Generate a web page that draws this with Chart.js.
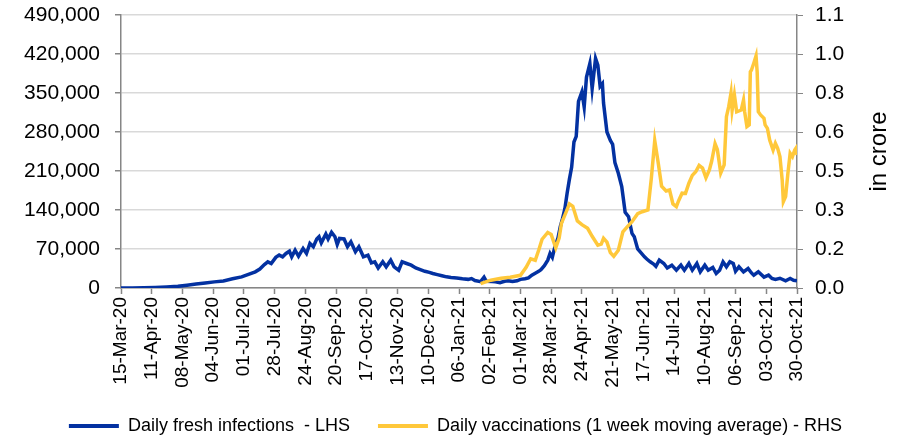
<!DOCTYPE html>
<html><head><meta charset="utf-8">
<script src="https://cdn.jsdelivr.net/npm/chart.js@4/dist/chart.umd.min.js"></script>
<style>html,body{margin:0;padding:0;background:#fff}#wrap{width:897px;height:438px;position:relative}</style>
</head><body><div id="wrap"><canvas id="c" width="897" height="438"></canvas></div>
<script>
// x values are day offsets counted from 15-Mar-20
const tickLabels = ['15-Mar-20','11-Apr-20','08-May-20','04-Jun-20','01-Jul-20','28-Jul-20','24-Aug-20','20-Sep-20','17-Oct-20','13-Nov-20','10-Dec-20','06-Jan-21','02-Feb-21','01-Mar-21','28-Mar-21','24-Apr-21','21-May-21','17-Jun-21','14-Jul-21','10-Aug-21','06-Sep-21','03-Oct-21','30-Oct-21'];
const leftTicks = [0,70000,140000,210000,280000,350000,420000,490000];
const rightTicks = [0,0.16,0.32,0.48,0.64,0.80,0.96,1.12];

const seriesNames = ['Daily fresh infections  - LHS','Daily vaccinations (1 week moving average) - RHS'];

const infectionDay = [0,10,20,30,40,50,58,66,74,82,90,98,106,112,118,122,126,129,132,136,139,142,145,148,150,153,156,160,163,166,169,172,174,176,180,182,185,188,190,192,196,199,202,206,209,213,217,220,223,226,230,233,237,240,244,247,251,255,259,263,267,271,274,278,282,286,290,295,300,305,308,311,316,319,321,326,329,333,337,340,344,348,351,355,358,361,364,367,369,372,375,377,379,381,384,386,388,390,392,394,396,398,400,402,405,407,409,412,414,417,419,421,423,424,427,430,432,434,437,440,443,446,449,451,454,457,460,462,465,468,470,473,477,480,484,488,492,495,499,502,506,509,513,516,520,523,526,529,532,535,538,540,543,547,551,554,556,560,565,569,572,575,579,584,588,591,594];
const infectionValue = [100,200,500,1000,1800,3000,5000,7000,9000,11000,12500,16500,20000,24500,29000,34000,42000,47000,44000,55000,59000,56000,62000,66000,56000,68000,57000,71000,62000,80000,74000,88000,92000,81000,97000,88000,100000,92000,78000,89000,88000,74000,83000,65000,74000,56000,59000,45000,47000,36000,47000,38000,50000,38000,32000,47000,44000,41000,36000,33000,30000,28000,26000,24000,22000,20000,19000,18000,16500,15500,17000,13500,11500,19500,12000,11500,11000,9500,12000,13000,11500,13000,15500,16500,18000,23000,26500,30000,33000,40000,50000,62000,55000,72000,90000,110000,125000,142000,170000,195000,217000,262000,272000,335000,352000,325000,378000,403000,358000,412000,400000,362000,367000,332000,280000,265000,258000,225000,206000,182000,136000,128000,98000,92000,70000,63000,56000,52000,47000,43000,39000,50000,44000,36000,41000,32000,41000,32000,44000,32000,44000,29000,41000,32000,37000,26000,32000,47000,38000,47000,44000,30000,38000,29000,35000,27000,23000,29000,19500,23000,17000,15500,17500,13000,17000,14000,13000];

const vaccinationDay = [316,325,334,342,351,356,360,364,367,370,375,378,382,385,387,391,394,397,401,405,410,414,419,422,424,427,430,433,437,441,445,449,454,458,463,466,469,472,475,479,482,485,488,490,493,496,499,502,505,508,511,514,517,519,522,524,527,530,532,534,536,537,539,541,545,547,548,550,552,553,554,556,558,559,560,562,565,566,568,570,573,575,577,579,581,582,584,586,588,590,592,593,594];
const vaccinationValue = [0.018,0.032,0.040,0.044,0.052,0.085,0.120,0.114,0.155,0.200,0.228,0.220,0.165,0.205,0.265,0.310,0.345,0.335,0.275,0.260,0.245,0.212,0.176,0.180,0.204,0.188,0.145,0.130,0.155,0.230,0.252,0.272,0.305,0.313,0.320,0.450,0.605,0.515,0.418,0.398,0.402,0.345,0.334,0.358,0.389,0.388,0.430,0.462,0.477,0.503,0.492,0.452,0.484,0.520,0.592,0.568,0.472,0.505,0.703,0.744,0.800,0.730,0.792,0.723,0.730,0.771,0.723,0.662,0.669,0.887,0.894,0.922,0.952,0.887,0.723,0.710,0.696,0.669,0.655,0.607,0.566,0.594,0.573,0.539,0.443,0.354,0.375,0.470,0.553,0.539,0.566,0.573,0.546];

const BLUE = '#0331A1';
const YELLOW = '#FFC83A';
const AXIS = '#868686';
const GRID = '#D9D9D9';
const FONT = '"Liberation Sans", Arial, sans-serif';

const toPts = (xs, ys) => xs.map((x, i) => ({x: x, y: ys[i]}));

const titlePlugin = {
  id: 'rightTitle',
  afterDraw(chart) {
    const ctx = chart.ctx;
    const a = chart.chartArea;
    ctx.save();
    ctx.translate(879, (a.top + a.bottom) / 2);
    ctx.rotate(-Math.PI / 2);
    ctx.textAlign = 'center';
    ctx.textBaseline = 'middle';
    ctx.fillStyle = '#000';
    ctx.font = '24px ' + FONT;
    ctx.fillText('in crore', 0, 0);
    ctx.restore();
  }
};

new Chart(document.getElementById('c'), {
  type: 'line',
  data: {
    datasets: [
      {label: seriesNames[0], data: toPts(infectionDay, infectionValue), yAxisID: 'y', borderColor: BLUE, backgroundColor: BLUE, borderWidth: 3.5, pointRadius: 0, tension: 0, order: 1},
      {label: seriesNames[1], data: toPts(vaccinationDay, vaccinationValue), yAxisID: 'y1', borderColor: YELLOW, backgroundColor: YELLOW, borderWidth: 3.5, pointRadius: 0, tension: 0, order: 0}
    ]
  },
  options: {
    responsive: false,
    animation: false,
    devicePixelRatio: 1,
    layout: {padding: {top: 15, left: 14, right: 0, bottom: -7}},
    plugins: {
      tooltip: {enabled: false},
      legend: {
        position: 'bottom',
        labels: {
          boxWidth: 50, boxHeight: 4, padding: 28, color: '#000',
          font: {family: FONT, size: 18},
          generateLabels(chart) {
            return chart.data.datasets.map((d, i) => ({text: d.label, fillStyle: d.borderColor, strokeStyle: d.borderColor, lineWidth: 0, hidden: false, datasetIndex: i, fontColor: '#000'}));
          }
        }
      }
    },
    scales: {
      x: {
        type: 'linear', min: 0, max: 594,
        afterFit(s) { s.height = 101; },
        border: {display: true, color: AXIS, width: 1.5},
        grid: {drawOnChartArea: false, drawTicks: true, tickLength: 6, tickColor: AXIS, tickWidth: 1.5},
        ticks: {stepSize: 27, maxTicksLimit: 40, autoSkip: false, minRotation: 90, maxRotation: 90, padding: 3, color: '#000', font: {family: FONT, size: 19},
          callback: (v) => tickLabels[Math.round(v / 27)]}
      },
      y: {
        position: 'left', min: 0, max: 490000,
        afterFit(s) { s.width = 107; s.paddingTop = 0; s.paddingBottom = 0; },
        border: {display: true, color: AXIS, width: 1.5},
        grid: {color: GRID, lineWidth: 1.5, drawTicks: true, tickLength: 6, tickColor: AXIS},
        ticks: {stepSize: 70000, padding: 15, color: '#000', font: {family: FONT, size: 21},
          callback: (v) => leftTicks.includes(v) ? v.toLocaleString('en-US') : ''}
      },
      y1: {
        position: 'right', min: 0, max: 1.12,
        afterFit(s) { s.width = 100; s.paddingTop = 0; s.paddingBottom = 0; },
        border: {display: true, color: AXIS, width: 1.5},
        grid: {drawOnChartArea: false, drawTicks: true, tickLength: 6, tickColor: AXIS},
        ticks: {stepSize: 0.16, padding: 12, color: '#000', font: {family: FONT, size: 21},
          callback: (v) => v.toFixed(1)}
      }
    }
  },
  plugins: [titlePlugin]
});
</script>
</body></html>
